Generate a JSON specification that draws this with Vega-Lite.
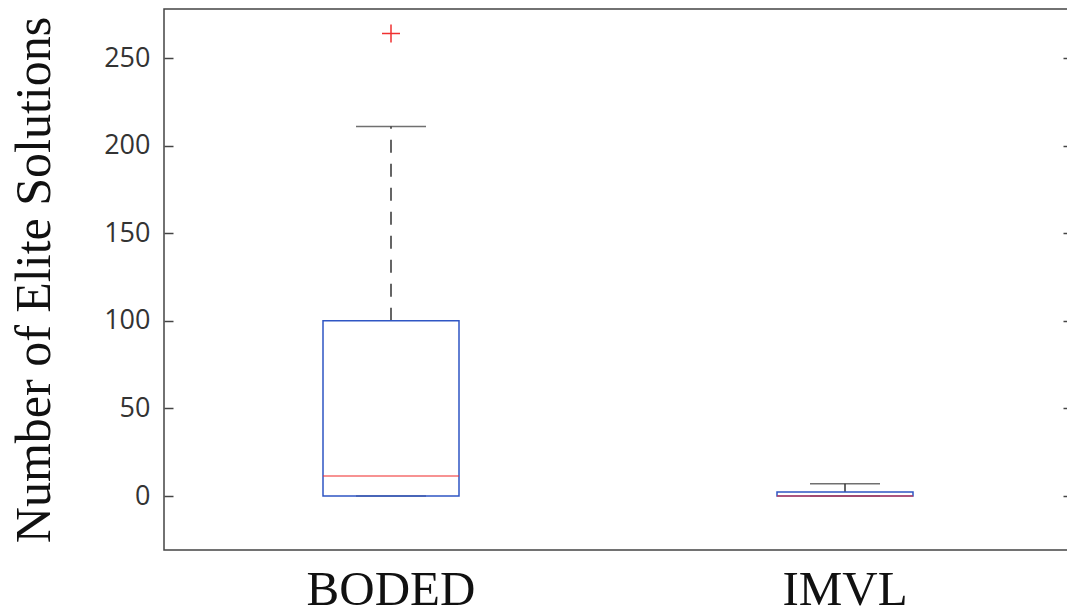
{
  "$schema": "https://vega.github.io/schema/vega-lite/v6.json",
  "width": 908,
  "height": 541,
  "autosize": {"type": "none"},
  "padding": {"left": 164, "top": 9, "right": 0, "bottom": 65},
  "background": "white",
  "config": {
    "view": {"stroke": "#444", "strokeWidth": 1.5},
    "axis": {"grid": false, "domain": false}
  },
  "datasets": {
    "stats": [
      {"method": "BODED", "min": 0, "q1": 0, "median": 11.5, "q3": 100, "max": 211},
      {"method": "IMVL", "min": 0, "q1": 0, "median": 0, "q3": 2.3, "max": 7}
    ],
    "outliers": [
      {"method": "BODED", "value": 264}
    ]
  },
  "encoding": {
    "x": {
      "field": "method",
      "type": "nominal",
      "sort": ["BODED", "IMVL"],
      "scale": {"domain": ["BODED", "IMVL"], "paddingInner": 0, "paddingOuter": 0},
      "axis": {
        "title": null,
        "ticks": false,
        "labelAngle": 0,
        "labelFont": "Liberation Serif",
        "labelFontSize": 49,
        "labelColor": "#111",
        "labelPadding": 15,
        "labelDx": 3
      }
    }
  },
  "layer": [
    {
      "data": {"name": "stats"},
      "mark": {"type": "rule", "color": "#333", "strokeWidth": 1.5, "strokeDash": [13, 11]},
      "encoding": {
        "y": {
          "field": "q3",
          "type": "quantitative",
          "scale": {"domain": [-30.8, 278], "nice": false, "zero": false},
          "axis": {
            "orient": "left",
            "offset": -9,
            "values": [0, 50, 100, 150, 200, 250],
            "tickSize": 9,
            "tickColor": "#444",
            "tickWidth": 1.5,
            "labelFont": "Open Sans",
            "labelFontSize": 27,
            "labelColor": "#333",
            "labelPadding": 14,
            "title": "Number of Elite Solutions",
            "titleFont": "Liberation Serif",
            "titleFontSize": 50,
            "titleFontWeight": "normal",
            "titleColor": "#111",
            "titlePadding": 44
          }
        },
        "y2": {"field": "max"}
      }
    },
    {
      "data": {"name": "stats"},
      "mark": {"type": "tick", "color": "#333", "thickness": 1.5, "size": 70},
      "encoding": {
        "y": {
          "field": "max",
          "type": "quantitative",
          "axis": {
            "orient": "right",
            "offset": -9,
            "values": [0, 50, 100, 150, 200, 250],
            "tickSize": 9,
            "tickColor": "#444",
            "tickWidth": 1.5,
            "labels": false,
            "title": null
          }
        }
      }
    },
    {
      "data": {"name": "stats"},
      "mark": {"type": "tick", "color": "#333", "thickness": 1.5, "size": 70},
      "encoding": {
        "y": {"field": "min", "type": "quantitative", "axis": null}
      }
    },
    {
      "data": {"name": "stats"},
      "mark": {"type": "bar", "size": 136, "fill": null, "fillOpacity": 0, "stroke": "#2f56c4", "strokeWidth": 1.5},
      "encoding": {
        "y": {"field": "q1", "type": "quantitative", "axis": null},
        "y2": {"field": "q3"}
      }
    },
    {
      "data": {"name": "stats"},
      "mark": {"type": "tick", "color": "#f03030", "thickness": 1.5, "size": 136},
      "encoding": {
        "y": {"field": "median", "type": "quantitative", "axis": null}
      }
    },
    {
      "data": {"name": "outliers"},
      "mark": {"type": "point", "shape": "M-1,0L1,0M0,-1L0,1", "size": 324, "filled": false, "stroke": "#f03030", "strokeWidth": 1.5, "opacity": 1},
      "encoding": {
        "y": {"field": "value", "type": "quantitative", "axis": null}
      }
    }
  ],
  "resolve": {"scale": {"y": "shared"}, "axis": {"y": "independent"}}
}
